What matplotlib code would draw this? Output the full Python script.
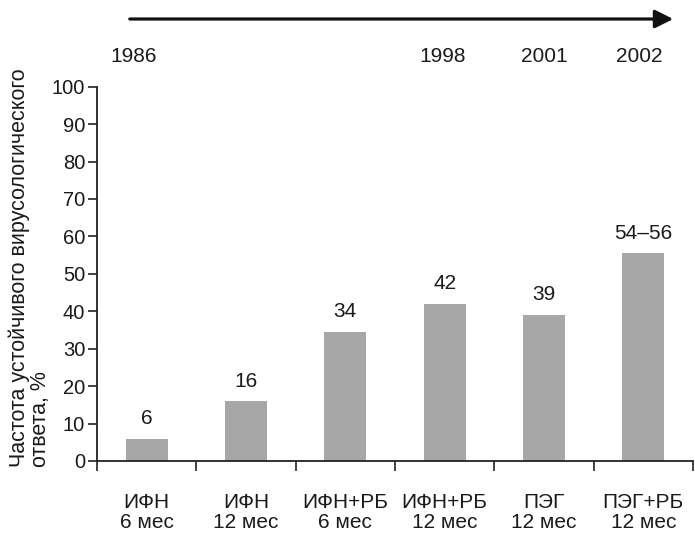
import matplotlib
matplotlib.use("Agg")
import matplotlib.pyplot as plt

categories = ["ИФН\n6 мес", "ИФН\n12 мес", "ИФН+РБ\n6 мес", "ИФН+РБ\n12 мес", "ПЭГ\n12 мес", "ПЭГ+РБ\n12 мес"]
values = [6, 16, 34.5, 42, 39, 55.5]
value_labels = ["6", "16", "34", "42", "39", "54–56"]
years = ["1986", "1998", "2001", "2002"]
year_positions = [-0.13, 2.98, 4.0, 4.96]
yticks = list(range(0, 101, 10))

plt.rcParams['font.family'] = ['Liberation Sans', 'DejaVu Sans']
txt = '#1a1a1a'
FS = 15

fig = plt.figure(figsize=(6.95, 5.4), dpi=100)
ax = fig.add_axes([97/695, 1-461/540, (693-97)/695, (461-86.7)/540])

x = list(range(len(categories)))
ax.bar(x, values, width=0.42, color='#a7a7a7', zorder=2)
for xi, v, lab in zip(x, values, value_labels):
    ax.annotate(lab, (xi, v), xytext=(0, 10.5), textcoords='offset points',
                ha='center', va='baseline', fontsize=FS, color=txt)

ax.set_xlim(-0.5, 5.5)
ax.set_ylim(0, 100)
ax.set_yticks(yticks)
ax.set_yticklabels([str(t) for t in yticks], fontsize=14.5, color=txt)
ax.set_xticks(x)
ax.set_xticklabels(categories, fontsize=FS, color=txt, linespacing=1.05)
ax.tick_params(axis='x', which='major', length=0, pad=23)
ax.set_xticks([i + 0.5 for i in range(-1, len(categories))], minor=True)
ax.tick_params(axis='x', which='minor', length=7, width=1.2, color='#222222', direction='out')
ax.tick_params(axis='y', length=6.5, width=1.2, color='#222222', pad=2)

for s in ['top', 'right']:
    ax.spines[s].set_visible(False)
for s in ['left', 'bottom']:
    ax.spines[s].set_linewidth(1.3)
    ax.spines[s].set_color('#222222')

# year labels above the plot
for yr, p in zip(years, year_positions):
    xf = ax.transData.transform((p, 0))[0]
    fig.text(xf / fig.dpi / 6.95, 1 - 57/540, yr, ha='center', va='center', fontsize=FS, color=txt)

# timeline arrow
fig.add_artist(matplotlib.patches.FancyArrowPatch((127/695, 1-19/540), (676/695, 1-19/540),
               transform=fig.transFigure, arrowstyle='-|>,head_length=11,head_width=5.5',
               mutation_scale=1, linewidth=2.3, color='#111111'))

fig.text(9/695, 1-467/540, "Частота устойчивого вирусологического\nответа, %",
         rotation=90, ha='left', va='bottom', multialignment='left',
         fontsize=15.5, color=txt, linespacing=0.95)

fig.savefig("out.png", dpi=100)
